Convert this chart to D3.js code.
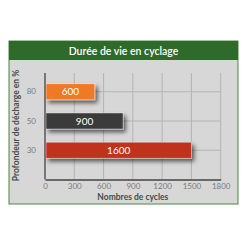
<!DOCTYPE html>
<html>
<head>
<meta charset="utf-8">
<style>
  body { margin: 0; background: #fff; }
  text { font-family: Lato, "Open Sans", sans-serif; }
</style>
</head>
<body>
<script src="https://cdn.jsdelivr.net/npm/d3@7"></script>
<script>
  const title = "Durée de vie en cyclage"
  const depths = ["80", "50", "30"]            // profondeur de décharge (%)
  const barCycles = [510, 800, 1500]          // bar lengths as drawn
  const barLabels = ["600", "900", "1600"]    // text printed on bars
  const barColors = ["#ef7a27", "#3a3a3a", "#c1311e"]
  const xTicks = [0, 300, 600, 900, 1200, 1500, 1800]

  const W = 247, H = 247
  const frame = { left: 9, right: 238, top: 41, bottom: 204, header: 19 }
  const plot = { left: 45, right: 220.7, top: 73, bottom: 179.5 }

  const svg = d3.select("body").append("svg")
    .attr("width", W)
    .attr("height", H)

  const defs = svg.append("defs")
  const f = defs.append("filter").attr("id", "shadow")
    .attr("x", "-10%").attr("y", "-40%").attr("width", "130%").attr("height", "220%")
  f.append("feDropShadow")
    .attr("dx", 2.5).attr("dy", 3).attr("stdDeviation", 2.2)
    .attr("flood-color", "#000").attr("flood-opacity", 0.6)

  // frame
  svg.append("rect")
    .attr("x", frame.left).attr("y", frame.top)
    .attr("width", frame.right - frame.left).attr("height", frame.bottom - frame.top)
    .attr("fill", "#d7d7d7")
    .attr("stroke", "#4d8446").attr("stroke-width", 1)

  svg.append("rect")
    .attr("x", frame.left).attr("y", frame.top)
    .attr("width", frame.right - frame.left).attr("height", frame.header)
    .attr("fill", "#2e6a2a")

  svg.append("text")
    .attr("x", (frame.left + frame.right) / 2)
    .attr("y", frame.top + 13.5)
    .attr("text-anchor", "middle")
    .attr("fill", "#fff")
    .attr("font-size", 10.5)
    .attr("font-weight", 600)
    .text(title)

  const x = d3.scaleLinear().domain([0, 1800]).range([plot.left, plot.right])
  const y = d3.scaleBand().domain(depths)
    .range([77, 165]).paddingInner(0.45).paddingOuter(0.23)

  // grid
  const grid = svg.append("g")
  grid.selectAll("line.v")
    .data(xTicks.slice(1))
    .enter().append("line")
    .attr("x1", d => x(d)).attr("x2", d => x(d))
    .attr("y1", plot.top).attr("y2", plot.bottom)
    .attr("stroke", "#b3b3b3").attr("stroke-width", 1)
  grid.selectAll("line.h")
    .data(depths)
    .enter().append("line")
    .attr("x1", plot.left).attr("x2", plot.right)
    .attr("y1", d => y(d) + y.bandwidth() / 2).attr("y2", d => y(d) + y.bandwidth() / 2)
    .attr("stroke", "#b3b3b3").attr("stroke-width", 1)

  // bars
  const bars = svg.append("g")
  bars.selectAll("rect")
    .data(depths)
    .enter().append("rect")
    .attr("x", x(0) + 1)
    .attr("y", d => y(d))
    .attr("width", (d, i) => x(barCycles[i]) - x(0) - 1)
    .attr("height", y.bandwidth())
    .attr("fill", (d, i) => barColors[i])
    .attr("stroke", "rgba(255,255,255,0.55)")
    .attr("stroke-width", 0.8)
    .attr("filter", "url(#shadow)")

  bars.selectAll("text")
    .data(depths)
    .enter().append("text")
    .attr("x", (d, i) => (x(0) + 1 + x(barCycles[i])) / 2)
    .attr("y", d => y(d) + y.bandwidth() / 2 + 3.6)
    .attr("text-anchor", "middle")
    .attr("fill", "#fff")
    .attr("font-size", 10)
    .text((d, i) => barLabels[i])

  // axes
  const xAxis = svg.append("g")
    .attr("transform", `translate(0, ${plot.bottom})`)
    .call(d3.axisBottom(x).tickValues(xTicks).tickFormat(d3.format("d")).tickSize(0).tickPadding(4))
  xAxis.select(".domain").attr("stroke", "#444").attr("stroke-width", 1.3)
  xAxis.selectAll("text").attr("fill", "#7a7a7a").attr("font-size", 8)
    .attr("font-family", "Lato, sans-serif")

  const yAxis = svg.append("g")
    .attr("transform", `translate(${plot.left}, 0)`)
    .call(d3.axisLeft(y).tickSize(0).tickPadding(9))
  yAxis.select(".domain").attr("d", `M0,${plot.top}V${plot.bottom}`)
    .attr("stroke", "#444").attr("stroke-width", 1.3)
  yAxis.selectAll("text").attr("fill", "#7a7a7a").attr("font-size", 8)
    .attr("font-family", "Lato, sans-serif")

  svg.append("text")
    .attr("x", (plot.left + plot.right) / 2)
    .attr("y", 200)
    .attr("text-anchor", "middle")
    .attr("fill", "#4a4a4a")
    .attr("font-size", 8.5)
    .attr("font-weight", 700)
    .text("Nombres de cycles")

  svg.append("text")
    .attr("transform", `translate(19, 125.5) rotate(-90)`)
    .attr("text-anchor", "middle")
    .attr("fill", "#4a4a4a")
    .attr("font-size", 8.5)
    .attr("font-weight", 700)
    .text("Profondeur de décharge en %")
</script>
</body>
</html>
